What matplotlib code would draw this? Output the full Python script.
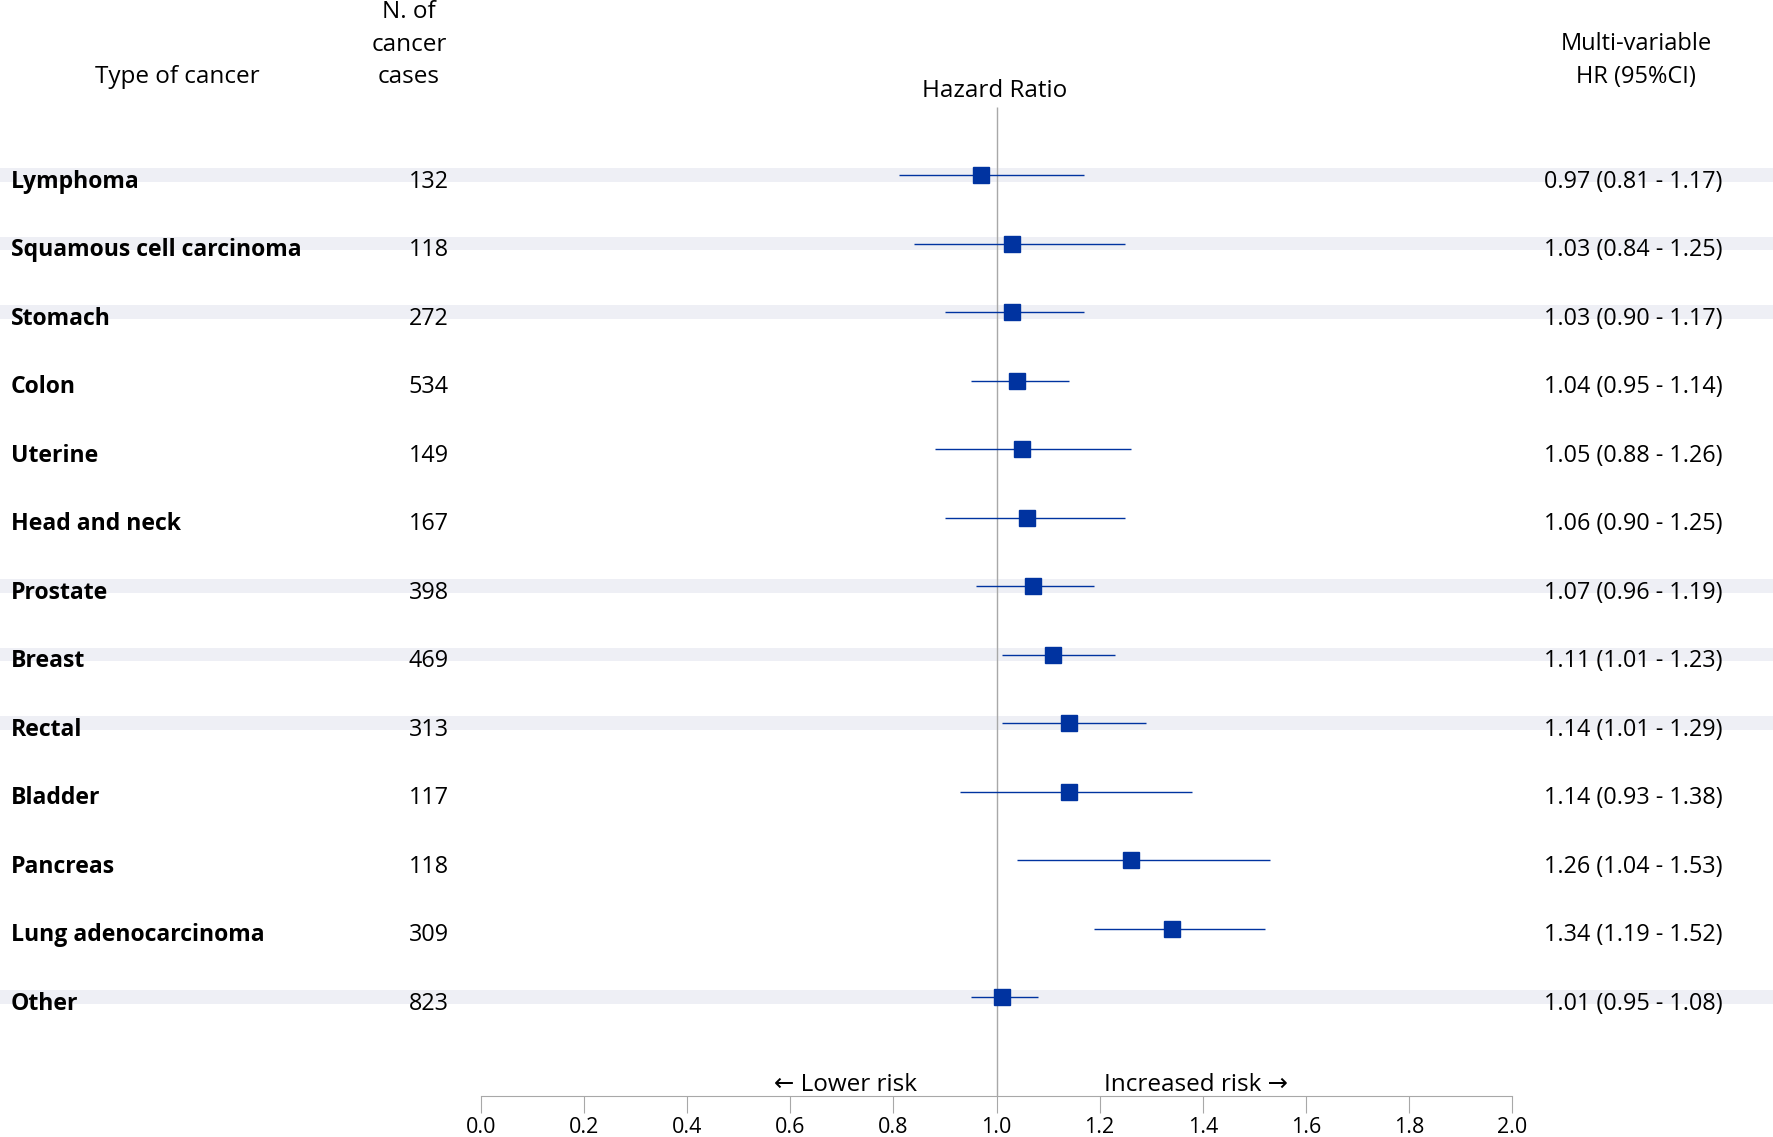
import matplotlib
matplotlib.use('Agg')
import matplotlib.pyplot as plt
import matplotlib.transforms as mtransforms

plt.rcParams['font.family'] = ['Open Sans', 'DejaVu Sans']

cancers = ['Lymphoma', 'Squamous cell carcinoma', 'Stomach', 'Colon', 'Uterine',
           'Head and neck', 'Prostate', 'Breast', 'Rectal', 'Bladder', 'Pancreas',
           'Lung adenocarcinoma', 'Other']
cases = [132, 118, 272, 534, 149, 167, 398, 469, 313, 117, 118, 309, 823]
hr = [0.97, 1.03, 1.03, 1.04, 1.05, 1.06, 1.07, 1.11, 1.14, 1.14, 1.26, 1.34, 1.01]
ci_low = [0.81, 0.84, 0.90, 0.95, 0.88, 0.90, 0.96, 1.01, 1.01, 0.93, 1.04, 1.19, 0.95]
ci_high = [1.17, 1.25, 1.17, 1.14, 1.26, 1.25, 1.19, 1.23, 1.29, 1.38, 1.53, 1.52, 1.08]
xticks = [0.0, 0.2, 0.4, 0.6, 0.8, 1.0, 1.2, 1.4, 1.6, 1.8, 2.0]

BLUE = '#0033a0'
STRIPE = '#eeeff5'
GREY = '#a8a8a8'
FS = 16.8

W, H = 1773, 1137
fig = plt.figure(figsize=(W / 100, H / 100), dpi=100)
fig.patch.set_facecolor('white')

# geometry in pixels (from top-left)
X0, X2 = 481, 1512          # pixel x of HR 0.0 and 2.0
AXIS_Y = 1096               # pixel y of the x-axis line
ROW0, ROWSTEP = 175, 68.5   # pixel y of first row and row spacing

ax = fig.add_axes([0, (H - AXIS_Y) / H, 1, AXIS_Y / H])
ppu = (X2 - X0) / 2.0
ax.set_xlim(-X0 / ppu, (W - X0) / ppu)
ax.set_ylim((AXIS_Y - ROW0) / ROWSTEP, -ROW0 / ROWSTEP)

for s in ['top', 'left', 'right']:
    ax.spines[s].set_visible(False)
ax.spines['bottom'].set_bounds(0, 2)
ax.spines['bottom'].set_color(GREY)
ax.set_yticks([])
ax.set_xticks(xticks)
ax.set_xticklabels([f'{t:.1f}' for t in xticks], fontsize=15.5)
ax.tick_params(axis='x', direction='out', length=12, color=GREY, pad=3)

n = len(cancers)
rows = list(range(n))

# stripes: groups of three alternate
for i in rows:
    if (i // 3) % 2 == 0:
        ax.axhspan(i - 0.1, i + 0.1, color=STRIPE, lw=0, zorder=0)

# reference line at HR = 1
ax.vlines(1.0, (AXIS_Y - ROW0) / ROWSTEP, (107 - ROW0) / ROWSTEP, color=GREY, lw=1, zorder=1)

# CI lines and markers
ax.hlines(rows, ci_low, ci_high, color=BLUE, lw=1.0, zorder=2)
ax.plot(hr, rows, 's', color=BLUE, markersize=11.5, zorder=3)

# table columns
tr = mtransforms.blended_transform_factory(fig.transFigure, ax.transData)
for i in rows:
    ax.text(11 / W, i + 0.095, cancers[i], transform=tr, ha='left', va='center',
            fontsize=16.6, fontweight='bold')
    ax.text(449 / W, i + 0.095, str(cases[i]), transform=tr, ha='right', va='center',
            fontsize=FS)
    ax.text(1633 / W, i + 0.095, f'{hr[i]:.2f} ({ci_low[i]:.2f} - {ci_high[i]:.2f})',
            transform=tr, ha='center', va='center', fontsize=FS)


def ftext(x, y, s, fs=17.5, **kw):
    fig.text(x / W, 1 - y / H, s, fontsize=fs, va='center', **kw)


ftext(177, 77, 'Type of cancer', ha='center')
ftext(409, 12, 'N. of', ha='center')
ftext(409, 45, 'cancer', ha='center')
ftext(409, 77, 'cases', ha='center')
ftext(995, 91, 'Hazard Ratio', ha='center')
ftext(1636, 44, 'Multi-variable', ha='center', fs=17)
ftext(1636, 77, 'HR (95%CI)', ha='center', fs=17)
ftext(917, 1085, '\u2190 Lower risk', ha='right', fs=17.5)
ftext(1104, 1085, 'Increased risk \u2192', ha='left', fs=17.5)

fig.savefig('out.png', dpi=100, facecolor='white')
